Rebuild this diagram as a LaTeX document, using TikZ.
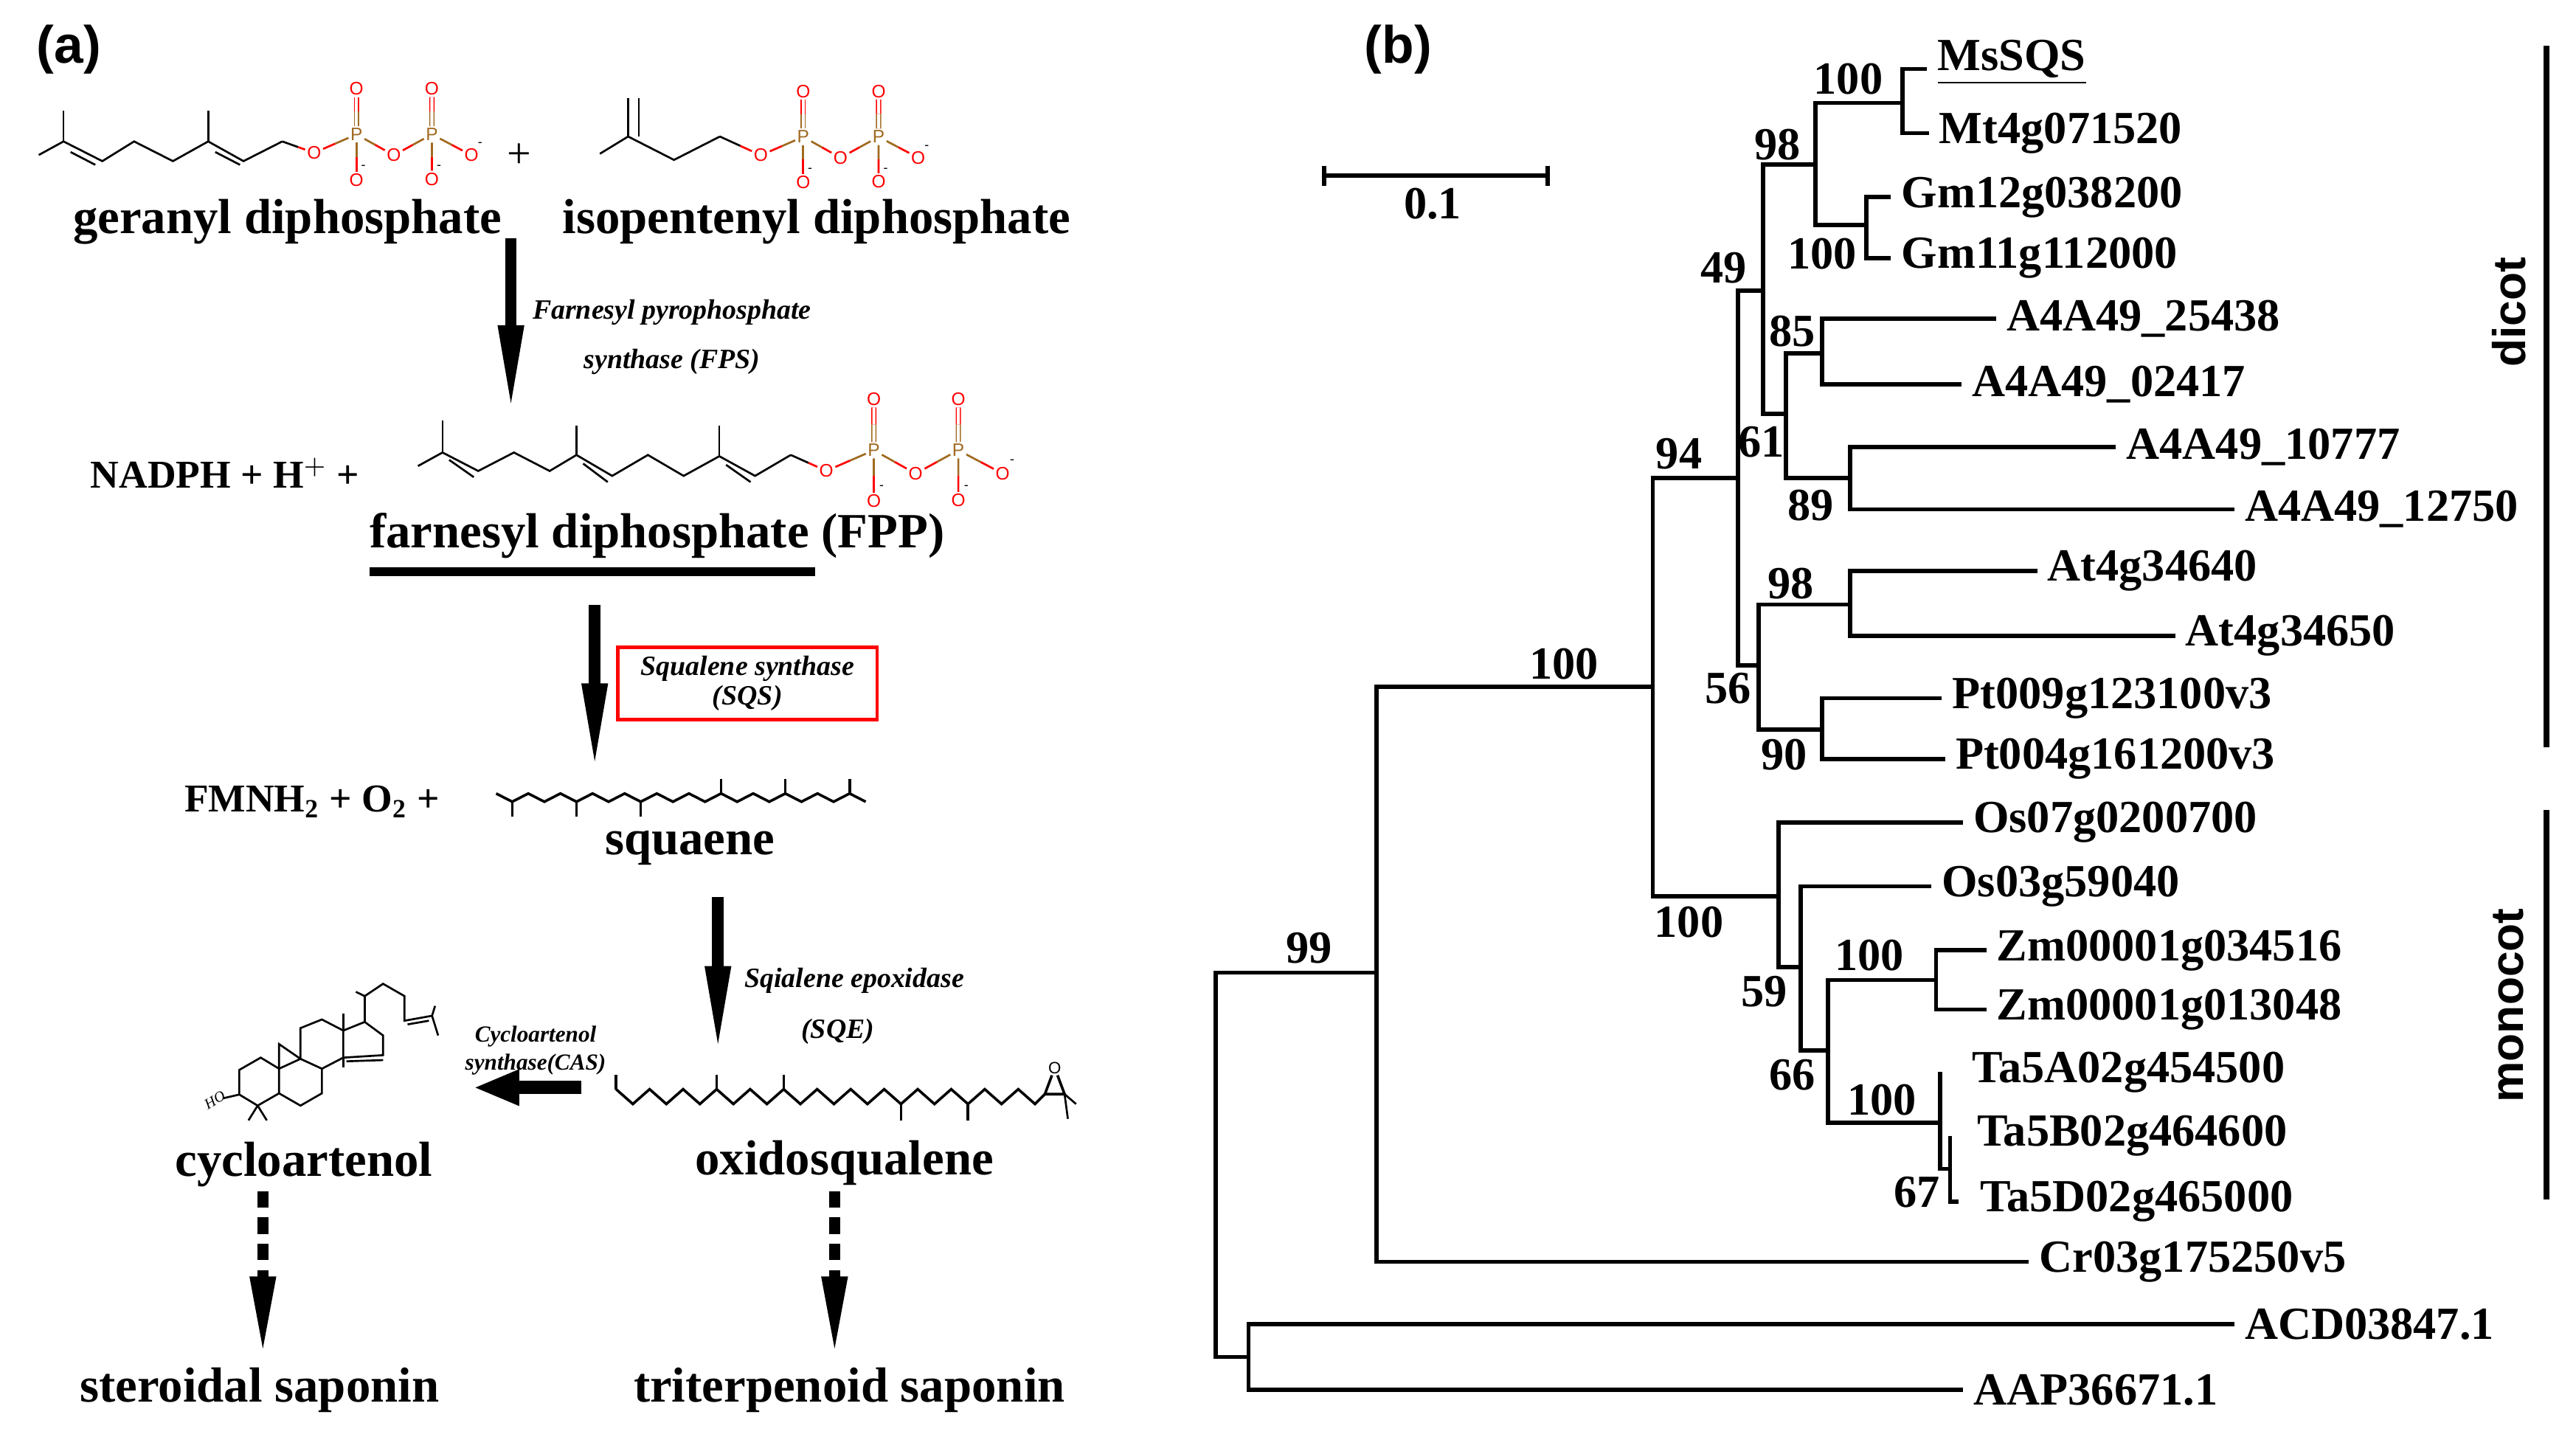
\documentclass[tikz,border=0pt]{standalone}
\usepackage{fontspec}
\setmainfont{Liberation Serif}
\newfontfamily\sansf{Liberation Sans}
\usetikzlibrary{arrows.meta,calc}
\definecolor{pbrown}{HTML}{A06A20}
\begin{document}
\begin{tikzpicture}[x=0.5pt,y=-0.5pt,line cap=butt,
  lab/.style={font=\bfseries\fontsize{15}{17}\selectfont,inner sep=0pt},
  leaf/.style={font=\bfseries\fontsize{14}{16}\selectfont,anchor=west,inner sep=1pt},
  boot/.style={font=\bfseries\fontsize{14}{16}\selectfont,inner sep=0pt},
  enz/.style={font=\bfseries\itshape\fontsize{8.5}{10}\selectfont,inner sep=0pt},
  tree/.style={line width=1.3pt},
  chem/.style={line width=0.6pt},
  atO/.style={font=\sansf\fontsize{5.5}{6}\selectfont,text=red,inner sep=0.4pt},
  atP/.style={font=\sansf\fontsize{5.5}{6}\selectfont,text=pbrown,inner sep=0.4pt},
  chg/.style={font=\sansf\fontsize{4}{4}\selectfont,inner sep=0pt},
  bigarr/.style={line width=3.5pt,-{Triangle[length=27pt,width=7pt]}},
  dotarr/.style={line width=3.5pt,dash pattern=on 5pt off 3pt,-{Triangle[length=25pt,width=7pt]}},
  pics/phos/.style={code={
    \node[atO] (-o1) at (0,0) {O};
    \node[atP] (-p1) at (25.8,-11.2) {P};
    \node[atO] (-t1) at (25.8,-39) {O};
    \node[atO] (-b1) at (25.8,16.5) {O};
    \node[atO] (-o2) at (48.5,1.5) {O};
    \node[atP] (-p2) at (71.7,-11.2) {P};
    \node[atO] (-t2) at (71.7,-39) {O};
    \node[atO] (-b2) at (71.7,16) {O};
    \node[atO] (-o3) at (95.8,1.5) {O};
    \foreach \a/\b in {o1/p1,o2/p1,o2/p2,o3/p2,b1/p1,b2/p2}{
      \draw[chem,red] (-\a) -- ($(-\a)!0.5!(-\b)$);
      \draw[chem,pbrown] ($(-\a)!0.5!(-\b)$) -- (-\b);}
    \foreach \a/\b in {t1/p1,t2/p2}{
      \draw[chem,red,double,double distance=0.9pt,line width=0.35pt] (-\a) -- ($(-\a)!0.5!(-\b)$);
      \draw[chem,pbrown,double,double distance=0.9pt,line width=0.35pt] ($(-\a)!0.5!(-\b)$) -- (-\b);}
    \node[chg] at (30,9) {-};
    \node[chg] at (76,9) {-};
    \node[chg] at (101,-5) {-};
  }}]
\useasboundingbox (0,0) rectangle (1568,874.3);
\fill[white] (0,0) rectangle (1568,874.3);

% ---------------- panel labels
\node[font=\sansf\bfseries\fontsize{16}{18}\selectfont] (pa) at (42,30) {(a)};
\node[font=\sansf\bfseries\fontsize{16}{18}\selectfont] (pb) at (851,30) {(b)};

% ---------------- GPP + IPP (zoom1 frame)
\begin{scope}[shift={(0,35.9)},x=0.2148pt,y=-0.0749pt]
  \draw[chem] (55,390) -- (90,335) -- (145,415) -- (190,335) -- (245,415) -- (295,335) -- (345,415) -- (400,335) coordinate (gppend);
  \draw[chem] (90,335) -- (90,210);
  \draw[chem] (295,335) -- (295,210);
  \draw[chem] (100,378) -- (135,430);
  \draw[chem] (305,378) -- (340,430);
  \draw[chem] (850,385) -- (890,315) -- (955,410) -- (1020,315) coordinate (ippend);
  \draw[chem] (890,315) -- (890,160);
  \draw[chem] (905,315) -- (905,160);
\end{scope}
\pic (gp) at (191.2,93) {phos};
\pic (ip) at (463.1,94.5) {phos};
\draw[chem] (gppend) -- ($(gppend)!0.5!(gp-o1)$);
\draw[chem,red] ($(gppend)!0.5!(gp-o1)$) -- (gp-o1);
\draw[chem] (ippend) -- ($(ippend)!0.5!(ip-o1)$);
\draw[chem,red] ($(ippend)!0.5!(ip-o1)$) -- (ip-o1);
\node[font=\fontsize{13}{14}\selectfont] (plus1) at (316,95) {+};
\node[lab] (gpp) at (175,135) {geranyl diphosphate};
\node[lab] (ipp) at (497,135) {isopentenyl diphosphate};

% ---------------- arrow 1
\coordinate (a1s) at (311,145); \coordinate (a1e) at (311,252);
\draw[bigarr] (a1s) -- (a1e);
\node[enz] (fps1) at (409,190) {Farnesyl pyrophosphate};
\node[enz] (fps2) at (409,220) {synthase (FPS)};

% ---------------- FPP (zoom2 frame)
\node[font=\bfseries\fontsize{12}{14}\selectfont] (nadph) at (137,288) {NADPH + H$^{\mathbf{+}}$ +};
\begin{scope}[shift={(224.5,224.5)},x=0.1359pt,y=-0.0749pt]
  \draw[chem] (110,395) -- (165,340) -- (245,415) -- (325,340) -- (405,415) -- (465,350) -- (545,435) -- (625,350) -- (705,435) -- (785,355) -- (865,435) -- (945,350) coordinate (fppend);
  \draw[chem] (165,340) -- (165,210);
  \draw[chem] (465,350) -- (465,230);
  \draw[chem] (785,355) -- (785,230);
  \draw[chem] (180,370) -- (235,440);
  \draw[chem] (480,385) -- (535,460);
  \draw[chem] (800,390) -- (855,460);
\end{scope}
\pic[scale=1.12] (fp) at (503,286.6) {phos};
\draw[chem] (fppend) -- ($(fppend)!0.5!(fp-o1)$);
\draw[chem,red] ($(fppend)!0.5!(fp-o1)$) -- (fp-o1);
\node[lab] (fpp) at (400,326) {farnesyl diphosphate (FPP)};
\coordinate (ul1) at (225,348); \coordinate (ul2) at (496,348);
\draw[line width=2.6pt] (ul1) -- (ul2);

% ---------------- arrow 2 + SQS box
\coordinate (a2s) at (362,368); \coordinate (a2e) at (362,470);
\draw[bigarr] (a2s) -- (a2e);
\node[enz,draw=red,line width=1pt,minimum width=79pt,minimum height=22pt,align=center] (sqs) at (455,416) {Squalene synthase\\[-1pt](SQS)};

% ---------------- squalene
\node[font=\bfseries\fontsize{12}{14}\selectfont] (fmn) at (190,488) {FMNH$_{\mathbf{2}}$ + O$_{\mathbf{2}}$ +};
\draw[chem,line width=0.8pt] (302,483) \foreach \i in {1,...,23}{ -- ({302+9.78*\i},{483+5*mod(\i,2)}) };
\foreach \i in {1,5,9}{\draw[chem,line width=0.8pt] ({302+9.78*\i},488) -- ({302+9.78*\i},497);}
\foreach \i in {14,18,22}{\draw[chem,line width=0.8pt] ({302+9.78*\i},483) -- ({302+9.78*\i},474);}
\node[lab] (sq) at (420,516) {squaene};

% ---------------- arrow 3
\coordinate (a3s) at (437,546); \coordinate (a3e) at (437,642);
\draw[bigarr] (a3s) -- (a3e);
\node[enz] (sqe1) at (520,597) {Sqialene epoxidase};
\node[enz] (sqe2) at (510,628) {(SQE)};

% ---------------- oxidosqualene
\draw[chem,line width=0.8pt] (375,663) \foreach \i in {1,...,25}{ -- ({375+10.2*\i},{663+9*mod(\i,2)}) } -- (636,666) coordinate (epc1);
\foreach \i in {0,6,10}{\draw[chem,line width=0.8pt] ({375+10.2*\i},663) -- ({375+10.2*\i},654);}
\foreach \i in {17,21}{\draw[chem,line width=0.8pt] ({375+10.2*\i},672) -- ({375+10.2*\i},682);}
\node[font=\sansf\fontsize{5}{5}\selectfont,inner sep=0.3pt] (epo) at (642,650) {O};
\coordinate (epc2) at (648,666);
\draw[chem,line width=0.8pt] (epc1) -- (epc2) -- (epo) -- (epc1);
\draw[chem] (epc2) -- (655,672);
\draw[chem] (epc2) -- (650,681);
\node[lab] (oxs) at (514,708) {oxidosqualene};

% ---------------- arrow 4 (CAS)
\coordinate (a4s) at (354,662); \coordinate (a4e) at (288,662);
\draw[line width=4pt,-{Triangle[length=14pt,width=10pt]}] (a4s) -- (a4e);
\node[enz,font=\bfseries\itshape\fontsize{7}{8}\selectfont] (cas1) at (326,631) {Cycloartenol};
\node[enz,font=\bfseries\itshape\fontsize{7}{8}\selectfont] (cas2) at (326,648) {synthase(CAS)};

% ---------------- cycloartenol (zoom3 frame)
\begin{scope}[shift={(89.8,458)},x=0.1862pt,y=-0.0749pt]
  \draw[chem] (150,1290) -- (185,1240) -- (215,1285) -- (215,1385) -- (180,1435) -- (150,1390) -- cycle;
  \draw[chem] (215,1285) -- (250,1245) -- (285,1285) -- (285,1385) -- (250,1435) -- (215,1385);
  \draw[chem] (215,1285) -- (215,1185) -- (250,1245);
  \draw[chem] (250,1245) -- (250,1120) -- (285,1085) -- (320,1130) -- (320,1240) -- (285,1285);
  \draw[chem] (320,1130) -- (355,1095) -- (385,1150) -- (385,1230) -- (320,1240);
  \draw[chem] (325,1255) -- (385,1250);
  \draw[chem] (320,1130) -- (320,1060);
  \draw[chem,dashed] (320,1240) -- (320,1310);
  \draw[chem] (355,1095) -- (355,990) -- (385,940) -- (420,990) -- (420,1090) -- (465,1070) -- (475,1150);
  \draw[chem] (425,1105) -- (460,1090);
  \draw[chem] (465,1070) -- (470,1030);
  \draw[chem,dashed] (355,990) -- (330,960);
  \draw[chem] (180,1435) -- (165,1495);
  \draw[chem] (180,1435) -- (195,1495);
  \draw[chem] (150,1390) -- (124,1405);
  \node[font=\itshape\fontsize{4.5}{5}\selectfont,inner sep=0pt,rotate=30] (ho) at (110,1412) {HO};
\end{scope}
\node[lab] (cyc) at (185,709) {cycloartenol};

% ---------------- dotted arrows
\coordinate (d1s) at (160,725); \coordinate (d1e) at (160,827);
\coordinate (d2s) at (508,725); \coordinate (d2e) at (508,827);
\draw[dotarr] (d1s) -- (d1e);
\draw[dotarr] (d2s) -- (d2e);
\node[lab] (ster) at (158,846) {steroidal saponin};
\node[lab] (trit) at (517,846) {triterpenoid saponin};

% ================= panel (b): tree
\coordinate (s1) at (806,107); \coordinate (s2) at (942,107);
\draw[tree] (s1) -- (s2);
\draw[tree] ($(s1)+(0,-6)$) -- ($(s1)+(0,6)$);
\draw[tree] ($(s2)+(0,-6)$) -- ($(s2)+(0,6)$);
\node[boot] (sl) at (872,124) {0.1};

\coordinate (R) at (740,700);
\coordinate (n760) at (760,826);
\coordinate (n838) at (838,592);
\coordinate (n1006) at (1006,418);
\coordinate (nA) at (1058,291);
\coordinate (nB) at (1073,177);
\coordinate (nC) at (1105,100);
\coordinate (nD) at (1158,62.6);
\coordinate (nE) at (1136,137);
\coordinate (nF) at (1087,252);
\coordinate (nG) at (1109,215);
\coordinate (nH) at (1126,291);
\coordinate (nI) at (1070.5,405);
\coordinate (nJ) at (1126,368);
\coordinate (nK) at (1109,444);
\coordinate (nL) at (1082.5,545.5);
\coordinate (nM) at (1096,588.5);
\coordinate (nN) at (1112.5,639.5);
\coordinate (nO) at (1178.5,596.5);
\coordinate (nP) at (1181,683.5);
\coordinate (nQ) at (1187,711.5);

\coordinate (lACD) at (1360,806);
\coordinate (lAAP) at (1195,846);
\coordinate (lCr) at (1235,768);
\coordinate (lMs) at (1173,42);
\coordinate (lMt) at (1174,81);
\coordinate (lG12) at (1151,120);
\coordinate (lG11) at (1151,157);
\coordinate (l25) at (1215,194);
\coordinate (l02) at (1194,234);
\coordinate (l10) at (1288,272);
\coordinate (l12) at (1360,310);
\coordinate (l40) at (1240,347.6);
\coordinate (l50) at (1324,387);
\coordinate (lP9) at (1182,425);
\coordinate (lP4) at (1184,462);
\coordinate (lO7) at (1194.8,500.5);
\coordinate (lO3) at (1175.6,539.5);
\coordinate (lZ1) at (1209,578.5);
\coordinate (lZ2) at (1209,614.5);
\coordinate (lTA) at (1181,652.5);
\coordinate (lTB) at (1187,691.5);
\coordinate (lTD) at (1192,731.5);

\foreach \n/\a/\b in {R/n838/n760, n760/lACD/lAAP, n838/n1006/lCr, n1006/nA/nL,
  nA/nB/nI, nB/nC/nF, nC/nD/nE, nD/lMs/lMt, nE/lG12/lG11, nF/nG/nH, nG/l25/l02,
  nH/l10/l12, nI/nJ/nK, nJ/l40/l50, nK/lP9/lP4, nL/lO7/nM, nM/lO3/nN, nN/nO/nP,
  nO/lZ1/lZ2, nP/lTA/nQ, nQ/lTB/lTD}{
  \draw[tree] (\a) -| (\n) |- (\b);
}

\node[leaf] (tACD) at ($(lACD)+(4,0)$) {ACD03847.1};
\node[leaf] (tAAP) at ($(lAAP)+(4,0)$) {AAP36671.1};
\node[leaf] (tCr) at ($(lCr)+(4,0)$) {Cr03g175250v5};
\node[leaf] (tMs) at ($(lMs)+(4,-4)$) {\underline{MsSQS}};
\node[leaf] (tMt) at ($(lMt)+(4,0)$) {Mt4g071520};
\node[leaf] (tG12) at ($(lG12)+(4,0)$) {Gm12g038200};
\node[leaf] (tG11) at ($(lG11)+(4,0)$) {Gm11g112000};
\node[leaf] (t25) at ($(l25)+(4,0)$) {A4A49\_25438};
\node[leaf] (t02) at ($(l02)+(4,0)$) {A4A49\_02417};
\node[leaf] (t10) at ($(l10)+(4,0)$) {A4A49\_10777};
\node[leaf] (t12) at ($(l12)+(4,0)$) {A4A49\_12750};
\node[leaf] (t40) at ($(l40)+(4,0)$) {At4g34640};
\node[leaf] (t50) at ($(l50)+(4,0)$) {At4g34650};
\node[leaf] (tP9) at ($(lP9)+(4,0)$) {Pt009g123100v3};
\node[leaf] (tP4) at ($(lP4)+(4,0)$) {Pt004g161200v3};
\node[leaf] (tO7) at ($(lO7)+(4,0)$) {Os07g0200700};
\node[leaf] (tO3) at ($(lO3)+(4,0)$) {Os03g59040};
\node[leaf] (tZ1) at ($(lZ1)+(4,0)$) {Zm00001g034516};
\node[leaf] (tZ2) at ($(lZ2)+(4,0)$) {Zm00001g013048};
\node[leaf] (tTA) at ($(lTA)+(17,0)$) {Ta5A02g454500};
\node[leaf] (tTB) at ($(lTB)+(14,0)$) {Ta5B02g464600};
\node[leaf] (tTD) at ($(lTD)+(11,0)$) {Ta5D02g465000};

\node[boot] (b1) at (797,577) {99};
\node[boot] (b2) at (952,404) {100};
\node[boot] (b3) at (1022,276) {94};
\node[boot] (b4) at (1028,561.5) {100};
\node[boot] (b5) at (1125,48) {100};
\node[boot] (b6) at (1082,88) {98};
\node[boot] (b7) at (1109,154.6) {100};
\node[boot] (b8) at (1049,163) {49};
\node[boot] (b9) at (1091,201.5) {85};
\node[boot] (b10) at (1072,269) {61};
\node[boot] (b11) at (1102,307.6) {89};
\node[boot] (b12) at (1090,355) {98};
\node[boot] (b13) at (1052,419) {56};
\node[boot] (b14) at (1086,459.4) {90};
\node[boot] (b15) at (1074,603.5) {59};
\node[boot] (b16) at (1091,654.5) {66};
\node[boot] (b17) at (1138,581.5) {100};
\node[boot] (b18) at (1145.5,669.5) {100};
\node[boot] (b19) at (1167,725.5) {67};

\coordinate (dc1) at (1550,28); \coordinate (dc2) at (1550,455);
\coordinate (mc1) at (1550,493); \coordinate (mc2) at (1550,730);
\draw[line width=1.6pt] (dc1) -- (dc2);
\draw[line width=1.6pt] (mc1) -- (mc2);
\node[font=\sansf\bfseries\fontsize{14}{16}\selectfont,rotate=90] (dicot) at (1527,190) {dicot};
\node[font=\sansf\bfseries\fontsize{14}{16}\selectfont,rotate=90] (mono) at (1527,612) {monocot};
\end{tikzpicture}
\end{document}
